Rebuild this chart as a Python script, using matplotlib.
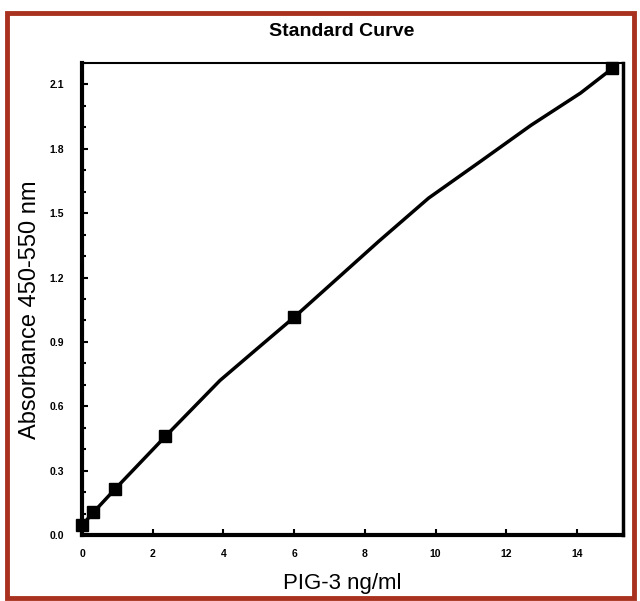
import matplotlib
matplotlib.use('Agg')
import matplotlib.pyplot as plt
from matplotlib.patches import Rectangle
from matplotlib.ticker import MultipleLocator

# Standards (ng/ml) and measured absorbance
conc = [0.0, 0.32, 0.94, 2.36, 6.0, 15.0]
absorbance = [0.045, 0.105, 0.215, 0.46, 1.015, 2.175]

# Fitted curve
curve_x = [0.0, 0.32, 0.94, 2.36, 3.9, 5.0, 6.0, 8.4, 9.8, 11.3, 12.7, 14.1, 15.0]
curve_y = [0.045, 0.105, 0.215, 0.46, 0.72, 0.875, 1.015, 1.37, 1.57, 1.745, 1.91, 2.06, 2.175]

x_ticks = [0, 2, 4, 6, 8, 10, 12, 14]
y_ticks = [0.0, 0.3, 0.6, 0.9, 1.2, 1.5, 1.8, 2.1]

plt.rcParams['font.family'] = ['Liberation Sans', 'DejaVu Sans']

fig = plt.figure(figsize=(6.4, 6.01), dpi=100)
W, H = 640, 601

# red frame round the whole picture
fig.patches.append(Rectangle((7 / W, 3 / H), 627 / W, 585 / H, transform=fig.transFigure,
                             fill=False, edgecolor='#a8321f', linewidth=3.5))

ax = fig.add_axes([82 / W, (601 - 535) / H, (623 - 82) / W, (535 - 63) / H])

ax.plot(curve_x, curve_y, color='black', linewidth=2.5, zorder=2)
ax.plot(conc, absorbance, linestyle='none', marker='s', markersize=8,
        color='black', zorder=3, clip_on=False)

ax.set_xlim(0, 15.3)
ax.set_ylim(0, 2.2)
ax.set_xticks(x_ticks)
ax.set_xticklabels([str(t) for t in x_ticks])
ax.set_yticks(y_ticks)
ax.set_yticklabels([f"{t:.1f}" for t in y_ticks])
ax.yaxis.set_minor_locator(MultipleLocator(0.1))

ax.tick_params(axis='both', which='major', direction='in', length=4, width=1.5,
               labelsize=7.5)
ax.tick_params(axis='x', which='major', pad=10)
ax.tick_params(axis='y', which='major', pad=13)
ax.tick_params(axis='y', which='minor', direction='in', length=3, width=1.5)
for lbl in ax.get_xticklabels() + ax.get_yticklabels():
    lbl.set_fontweight('bold')

ax.spines['left'].set_linewidth(3)
ax.spines['bottom'].set_linewidth(3)
ax.spines['right'].set_linewidth(2.5)
ax.spines['top'].set_linewidth(1.5)

ax.set_xlabel('PIG-3 ng/ml', fontsize=16)
ax.xaxis.set_label_coords((342 - 82) / 541, -(573 - 535) / 472)
ax.set_ylabel('Absorbance 450-550 nm', fontsize=17)
ax.yaxis.set_label_coords(-(82 - 41) / 541, (535 - 310) / 472)

fig.text(342 / W, 1 - 32 / H, 'Standard Curve', ha='center', va='center',
         fontsize=14, fontweight='bold')

fig.savefig('out.png', dpi=100)
